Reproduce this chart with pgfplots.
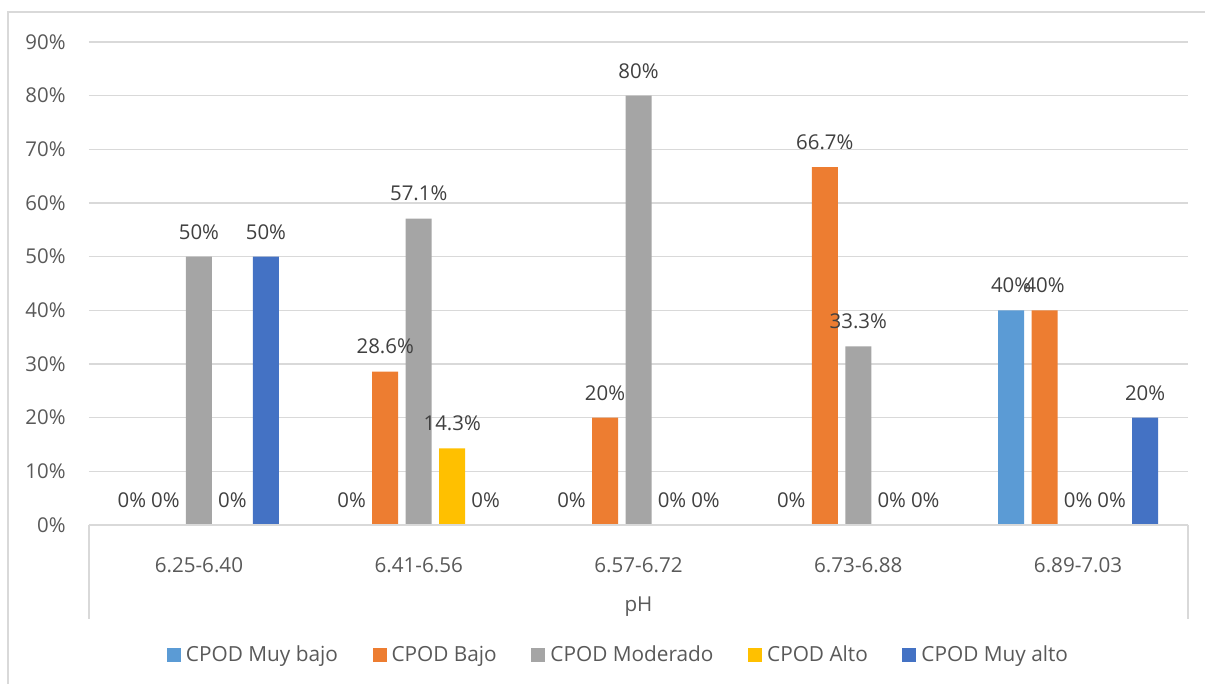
\documentclass[border=0pt]{standalone}
\usepackage{fontspec}
\setmainfont{Open Sans}
\usepackage{pgfplots}
\pgfplotsset{compat=1.18}
\definecolor{c1}{HTML}{5B9BD5}
\definecolor{c2}{HTML}{ED7D31}
\definecolor{c3}{HTML}{A5A5A5}
\definecolor{c4}{HTML}{FFC000}
\definecolor{c5}{HTML}{4472C4}
\definecolor{gridc}{HTML}{D9D9D9}
\definecolor{tickc}{HTML}{595959}
\definecolor{labc}{HTML}{404040}
\begin{document}
\begin{tikzpicture}
\useasboundingbox (-44.5pt,-79.5pt) rectangle (558pt,262.5pt);
\draw[gridc, line width=0.6pt] (-40.5pt,-90pt) -- (-40.5pt,256.5pt) -- (562pt,256.5pt);
\begin{axis}[
  at={(0pt,0pt)}, anchor=south west,
  scale only axis, width=549.5pt, height=241.5pt,
  /pgf/number format/assume math mode=true,
  ybar=3.75pt, bar width=13pt,
  xmin=-0.5, xmax=4.5, ymin=0, ymax=90,
  xtick={0,1,2,3,4},
  xticklabels={6.25-6.40,6.41-6.56,6.57-6.72,6.73-6.88,6.89-7.03},
  ytick={0,10,...,90},
  yticklabel={\pgfmathprintnumber{\tick}\%},
  axis line style={draw=none},
  tick style={draw=none},
  ymajorgrids, grid style={gridc, line width=0.7pt},
  yticklabel style={font=\fontsize{10.2}{12}\selectfont, color=tickc, anchor=east, inner sep=0pt, xshift=-11.5pt},
  xticklabel style={font=\fontsize{10.3}{12}\selectfont, color=tickc, anchor=base, inner sep=0pt, yshift=-19.5pt},
  nodes near coords={\pgfmathprintnumber[fixed,precision=1]{\pgfplotspointmeta}\%},
  every node near coord/.append style={font=\fontsize{10.2}{12}\selectfont, color=labc, anchor=south, inner sep=0pt, yshift=8.5pt},
  legend columns=-1,
  legend style={at={(rel axis cs:0.5,0)}, anchor=center, xshift=-9.25pt, yshift=-65pt, draw=none, fill=none,
    font=\fontsize{10.4}{12}\selectfont, text=tickc,
    /tikz/every even column/.append style={column sep=14.8pt},
    nodes={inner xsep=2.5pt}},
  legend image code/.code={\fill[#1] (0pt,-3.5pt) rectangle (7pt,3.5pt);},
  clip=false,
]
\addplot[fill=c1, draw=none] coordinates {(0,0) (1,0) (2,0) (3,0) (4,40)};
\addplot[fill=c2, draw=none] coordinates {(0,0) (1,28.6) (2,20) (3,66.7) (4,40)};
\addplot[fill=c3, draw=none] coordinates {(0,50) (1,57.1) (2,80) (3,33.3) (4,0)};
\addplot[fill=c4, draw=none] coordinates {(0,0) (1,14.3) (2,0) (3,0) (4,0)};
\addplot[fill=c5, draw=none] coordinates {(0,50) (1,0) (2,0) (3,0) (4,20)};
\legend{CPOD Muy bajo,CPOD Bajo,CPOD Moderado,CPOD Alto,CPOD Muy alto}
\draw[gridc, line width=0.8pt] (axis cs:-0.5,0) -- (axis cs:4.5,0);
\draw[gridc, line width=0.7pt] (axis cs:-0.5,0) -- ++(0pt,-47pt);
\draw[gridc, line width=0.7pt] (axis cs:4.5,0) -- ++(0pt,-47pt);
\node[font=\fontsize{10.3}{12}\selectfont, text=tickc, anchor=center] at ([yshift=-41pt]rel axis cs:0.5,0) {pH};
\end{axis}
\end{tikzpicture}
\end{document}
